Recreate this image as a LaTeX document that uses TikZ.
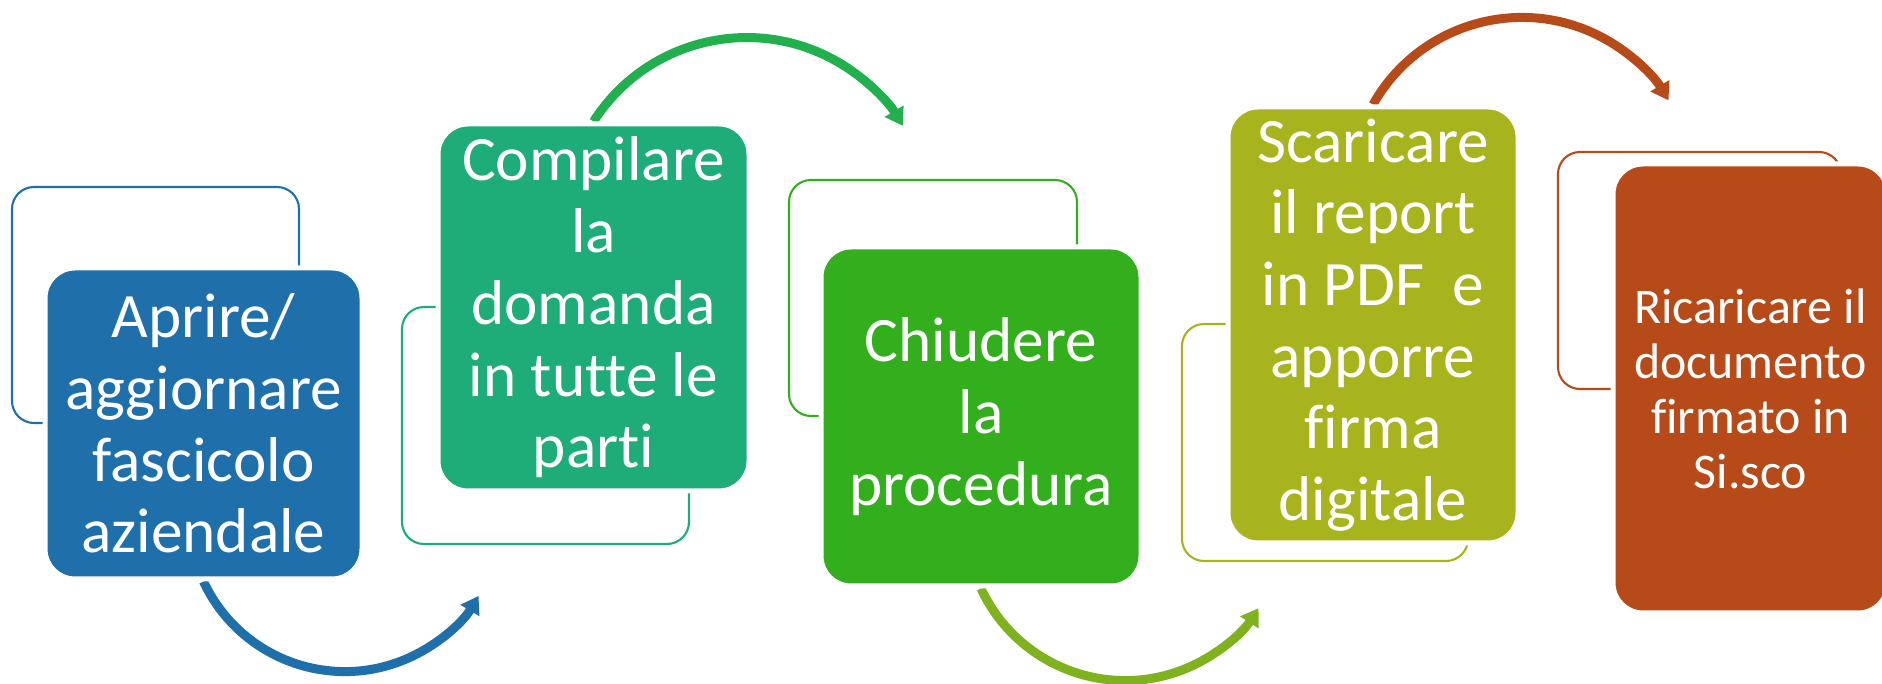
\documentclass[tikz,border=0pt]{standalone}
\usepackage{fontspec}
\setmainfont[Ligatures=NoCommon]{Carlito}
\usetikzlibrary{arrows.meta,backgrounds}
\definecolor{stepblue}{HTML}{1F6FAA}
\definecolor{stepteal}{HTML}{1EAC78}
\definecolor{stepgreen}{HTML}{33AF1E}
\definecolor{stepolive}{HTML}{A7B41E}
\definecolor{steprust}{HTML}{B74A19}
\definecolor{arcgreen}{HTML}{22B04E}
\definecolor{arclime}{HTML}{7EB21E}
\tikzset{
	stepbox/.style={rectangle, rounded corners=3mm, draw=white, line width=0.5mm, text=white, align=center, inner sep=0pt, font=\fontsize{18pt}{20.4pt}\selectfont},
	framebox/.style={rounded corners=2.2mm, line width=0.6pt},
	flow/.style={line width=0.9mm, -{Triangle[width=2.1mm,length=1.7mm]}}
}

\begin{document}
\begin{tikzpicture}[x=0.1mm, y=-0.1mm]
	\useasboundingbox (0,0) rectangle (1882,684);
	\node[stepbox, fill=stepblue, minimum width=31.7mm, minimum height=31.1mm] (aprire) at (203.5,423.5) {Aprire/\\aggiornare\\fascicolo\\aziendale};
	\node[stepbox, fill=stepteal, minimum width=31.1mm, minimum height=36.7mm] (compilare) at (593.5,307.5) {Compilare\\la\\domanda\\in tutte le\\parti};
	\node[stepbox, fill=stepgreen, minimum width=32mm, minimum height=33.9mm] (chiudere) at (981,416.5) {Chiudere\\la\\procedura};
	\node[stepbox, fill=stepolive, minimum width=29mm, minimum height=43.6mm] (scaricare) at (1373,325) {Scaricare\\il report\\in PDF~ e\\apporre\\firma\\digitale};
	\node[stepbox, fill=steprust, minimum width=27.5mm, minimum height=44.9mm, font=\fontsize{14.2pt}{15.65pt}\selectfont] (ricaricare) at (1750.5,388.5) {Ricaricare il\\documento\\firmato in\\Si.sco};
	\begin{scope}[on background layer]
		\draw[framebox, stepblue] (12,187) rectangle (299,423);
		\draw[framebox, stepteal] (402,307) rectangle (689,544);
		\draw[framebox, stepgreen] (789,180) rectangle (1077,416);
		\draw[framebox, stepolive] (1182,324) rectangle (1468,561);
		\draw[framebox, steprust] (1558,152) rectangle (1841,389);
		\draw[flow, stepblue] (aprire.south) arc[start angle=155, end angle=31, radius=156];
		\draw[flow, arcgreen] (compilare.north) arc[start angle=-147.4, end angle=-31, radius=182];
		\draw[flow, arclime] (chiudere.south) arc[start angle=155.1, end angle=33, radius=159];
		\draw[flow, steprust] (scaricare.north) arc[start angle=-150.6, end angle=-31, radius=171];
	\end{scope}
\end{tikzpicture}
\end{document}
